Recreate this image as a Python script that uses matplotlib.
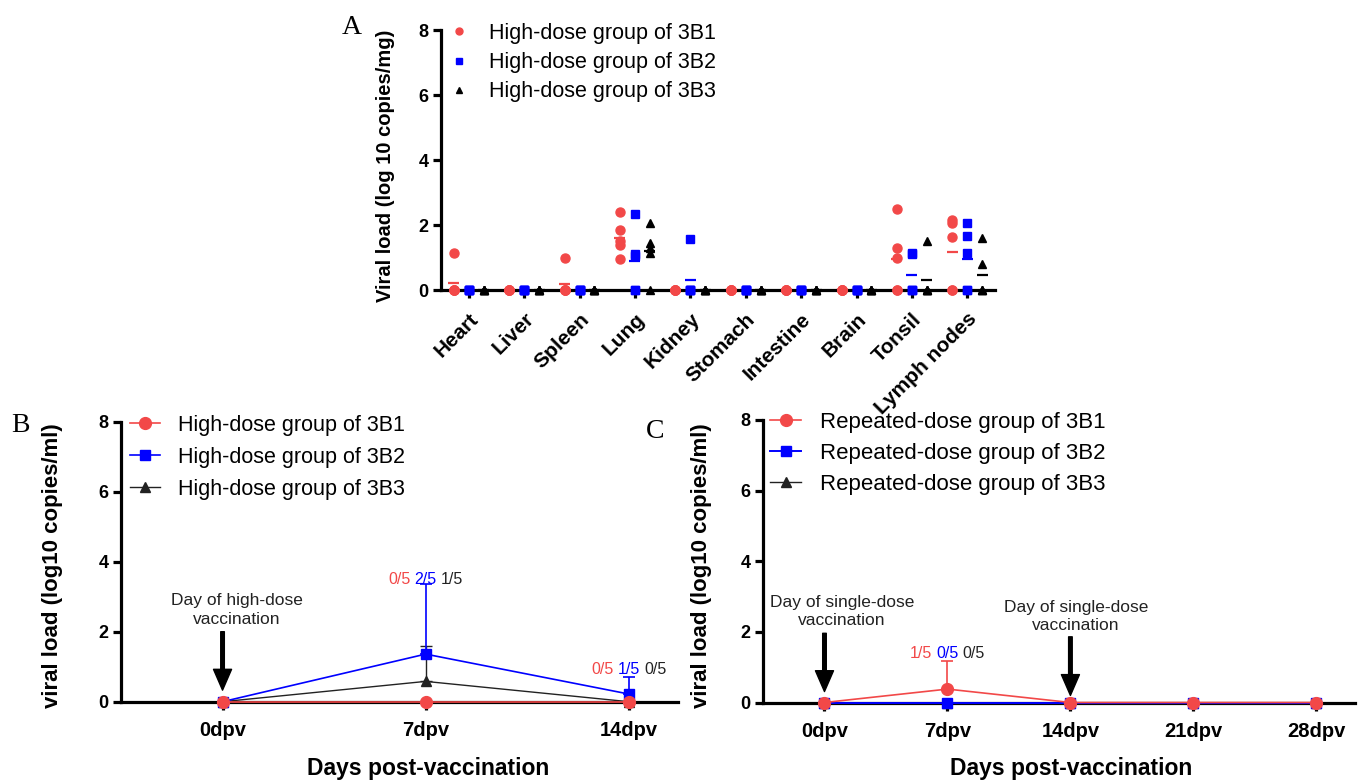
import numpy as np
import matplotlib.pyplot as plt
from matplotlib.lines import Line2D

plt.rcParams['font.family'] = ['Liberation Sans', 'DejaVu Sans']

W, H = 1363, 781
RED = '#f24848'
BLUE = '#0000ff'
BLACK = '#000000'

# ---- panel A: tissue viral load, 5 animals per group ----
organs = ['Heart', 'Liver', 'Spleen', 'Lung', 'Kidney', 'Stomach',
          'Intestine', 'Brain', 'Tonsil', 'Lymph nodes']
tissue_3b1 = [[1.15, 0, 0, 0, 0], [0, 0, 0, 0, 0], [1.0, 0, 0, 0, 0],
              [2.41, 1.84, 1.50, 1.37, 0.95], [0, 0, 0, 0, 0], [0, 0, 0, 0, 0],
              [0, 0, 0, 0, 0], [0, 0, 0, 0, 0], [2.48, 1.30, 1.0, 0, 0],
              [2.14, 2.06, 1.63, 0, 0]]
tissue_3b2 = [[0, 0, 0, 0, 0], [0, 0, 0, 0, 0], [0, 0, 0, 0, 0],
              [2.33, 1.12, 1.05, 0, 0], [1.56, 0, 0, 0, 0], [0, 0, 0, 0, 0],
              [0, 0, 0, 0, 0], [0, 0, 0, 0, 0], [1.15, 1.12, 0, 0, 0],
              [2.05, 1.66, 1.13, 0, 0]]
tissue_3b3 = [[0, 0, 0, 0, 0], [0, 0, 0, 0, 0], [0, 0, 0, 0, 0],
              [2.07, 1.46, 1.30, 1.15, 0], [0, 0, 0, 0, 0], [0, 0, 0, 0, 0],
              [0, 0, 0, 0, 0], [0, 0, 0, 0, 0], [1.51, 0, 0, 0, 0],
              [1.59, 0.79, 0, 0, 0]]
labels_a = ['High-dose group of 3B1', 'High-dose group of 3B2', 'High-dose group of 3B3']

# ---- panel B: blood viral load after high dose ----
days_b = [0, 7, 14]
b_3b1 = [0, 0, 0]
b_3b2 = [0, 1.36, 0.22]
b_3b2_sd = [0, 1.99, 0.48]
b_3b3 = [0, 0.58, 0]
b_3b3_sd = [0, 1.02, 0]
pos_b = [['0/5', '2/5', '1/5'], ['0/5', '1/5', '0/5']]
pos_b_y = [3.48, 0.93]
labels_b = labels_a

# ---- panel C: blood viral load after repeated dose ----
days_c = [0, 7, 14, 21, 28]
c_3b1 = [0, 0.38, 0, 0, 0]
c_3b1_sd = [0, 0.79, 0, 0, 0]
c_3b2 = [0, 0, 0, 0, 0]
c_3b3 = [0, 0, 0, 0, 0]
pos_c = ['1/5', '0/5', '0/5']
pos_c_y = 1.4
labels_c = ['Repeated-dose group of 3B1', 'Repeated-dose group of 3B2',
            'Repeated-dose group of 3B3']

fig = plt.figure(figsize=(W / 100, H / 100), dpi=100)


def axes_px(left, top, right, bottom):
    return fig.add_axes([left / W, 1 - bottom / H, (right - left) / W, (bottom - top) / H])


def fx(x):
    return x / W


def fy(y):
    return 1 - y / H


def style_axes(ax):
    for side in ('top', 'right'):
        ax.spines[side].set_visible(False)
    for side in ('left', 'bottom'):
        ax.spines[side].set_linewidth(2.3)
    ax.tick_params(width=2.3, length=6, direction='out', pad=3)
    ax.set_ylim(0, 8)
    ax.set_yticks([0, 2, 4, 6, 8])
    ax.set_yticklabels(['0', '2', '4', '6', '8'], fontweight='bold', fontsize=13)


# ================= A =================
axA = axes_px(441, 30, 995, 290)
style_axes(axA)
axA.set_xlim(-0.5, 9.5)
groups = [(tissue_3b1, -0.27, 'o', RED, 6.5),
          (tissue_3b2, 0.0, 's', BLUE, 6.0),
          (tissue_3b3, 0.27, '^', BLACK, 6.0)]
for vals, dx, mk, col, ms in groups:
    for i, organ_vals in enumerate(vals):
        xs = np.full(len(organ_vals), i + dx)
        axA.plot(xs, organ_vals, ls='none', marker=mk, ms=ms, color=col,
                 mec=col, clip_on=False, zorder=3)
        axA.hlines(np.mean(organ_vals), i + dx - 0.1, i + dx + 0.1,
                   color=col, lw=1.6, zorder=2)
axA.set_xticks(range(len(organs)))
axA.set_xticklabels(organs, rotation=45, ha='right', rotation_mode='anchor',
                    fontweight='bold', fontsize=15)
axA.tick_params(axis='x', pad=8)
axA.set_ylabel('Viral load (log 10 copies/mg)', fontweight='bold', fontsize=14.5)
axA.yaxis.set_label_coords(fx(395), fy(166), transform=fig.transFigure)
handles_a = [Line2D([], [], ls='none', marker=m, color=c, ms=5)
             for _, _, m, c, _ in groups]
axA.legend(handles_a, labels_a, loc='upper left', frameon=False,
           bbox_to_anchor=(fx(448), fy(23)), bbox_transform=fig.transFigure,
           borderpad=0, borderaxespad=0, handlelength=1.0, handletextpad=0.9,
           labelspacing=0.38, fontsize=15.5)
fig.text(fx(352), fy(28), 'A', family='Liberation Serif', fontsize=20,
         ha='center', va='center')


def line_panel(ax, days, series):
    handles = []
    for ys, sd, mk, col, lw, ms, z in series:
        if sd is not None:
            ax.errorbar(days, ys, yerr=[np.zeros(len(ys)), sd], fmt='none',
                        ecolor=col, elinewidth=lw, capsize=4, capthick=lw,
                        zorder=z, clip_on=False)
        h, = ax.plot(days, ys, marker=mk, color=col, lw=lw, ms=ms,
                     clip_on=False, zorder=z)
        handles.append(h)
    return handles[::-1]


def arrow(ax, x, y0, y1):
    ax.annotate('', xy=(x, y1), xytext=(x, y0),
                arrowprops=dict(facecolor='black', edgecolor='black', width=2.6,
                                headwidth=13, headlength=15, shrink=0))


def bottom_label(ax, text, xc):
    ax.set_xlabel(text, fontweight='bold', fontsize=16.5)
    ax.xaxis.set_label_coords(fx(xc), fy(768), transform=fig.transFigure)
    ax.xaxis.label.set_va('center')


# ================= B =================
axB = axes_px(121, 421.7, 678, 701.7)
style_axes(axB)
axB.set_xlim(-3.5, 15.7)
series_b = [(b_3b3, b_3b3_sd, '^', '#222222', 1.0, 7.5, 3),
            (b_3b2, b_3b2_sd, 's', BLUE, 1.2, 7.5, 4),
            (b_3b1, None, 'o', RED, 1.2, 8.5, 5)]
hb = line_panel(axB, days_b, series_b)
axB.set_xticks(days_b)
axB.set_xticklabels(['0dpv', '7dpv', '14dpv'], fontweight='bold', fontsize=14.5)
axB.tick_params(axis='x', pad=8)
axB.set_ylabel('viral load (log10 copies/ml)', fontweight='bold', fontsize=16)
axB.yaxis.set_label_coords(fx(63), fy(566), transform=fig.transFigure)
bottom_label(axB, 'Days post-vaccination', 428)
for (day, texts, yv) in zip(days_b[1:], pos_b, pos_b_y):
    for k, (t, c) in enumerate(zip(texts, [RED, BLUE, '#222222'])):
        axB.annotate(t, (day, yv), xytext=((k - 1) * 19, 0), textcoords='offset points',
                     ha='center', va='center', color=c, fontsize=11.5)
arrow(axB, 0, 2.0, 0.33)
axB.text(0.48, 2.62, 'Day of high-dose\nvaccination', ha='center', va='center',
         fontsize=12.5, linespacing=1.3, color='#222222')
axB.legend(hb, labels_b, loc='upper left', frameon=False,
           bbox_to_anchor=(fx(130), fy(415)), bbox_transform=fig.transFigure,
           borderpad=0, borderaxespad=0, handlelength=1.4, handletextpad=0.85,
           labelspacing=0.5, fontsize=15.5)
fig.text(fx(20), fy(425), 'B', family='Liberation Serif', fontsize=20,
         ha='center', va='center')

# ================= C =================
axC = axes_px(763, 420, 1355, 702.5)
style_axes(axC)
axC.set_xlim(-3.5, 30.2)
series_c = [(c_3b3, None, '^', '#222222', 1.0, 7.5, 3),
            (c_3b2, None, 's', BLUE, 1.4, 7.5, 4),
            (c_3b1, c_3b1_sd, 'o', RED, 1.2, 8.5, 5)]
hc = line_panel(axC, days_c, series_c)
axC.set_xticks(days_c)
axC.set_xticklabels(['0dpv', '7dpv', '14dpv', '21dpv', '28dpv'],
                    fontweight='bold', fontsize=14.5)
axC.tick_params(axis='x', pad=8)
axC.set_ylabel('viral load (log10 copies/ml)', fontweight='bold', fontsize=16)
axC.yaxis.set_label_coords(fx(712), fy(566), transform=fig.transFigure)
bottom_label(axC, 'Days post-vaccination', 1071)
for k, (t, c) in enumerate(zip(pos_c, [RED, BLUE, '#222222'])):
    axC.annotate(t, (7, pos_c_y), xytext=((k - 1) * 19, 0), textcoords='offset points',
                 ha='center', va='center', color=c, fontsize=11.5)
arrow(axC, 0, 1.96, 0.31)
arrow(axC, 14, 1.86, 0.2)
axC.text(1.0, 2.58, 'Day of single-dose\nvaccination', ha='center', va='center',
         fontsize=12.5, linespacing=1.3, color='#222222')
axC.text(14.3, 2.44, 'Day of single-dose\nvaccination', ha='center', va='center',
         fontsize=12.5, linespacing=1.3, color='#222222')
axC.legend(hc, labels_c, loc='upper left', frameon=False,
           bbox_to_anchor=(fx(770), fy(412)), bbox_transform=fig.transFigure,
           borderpad=0, borderaxespad=0, handlelength=1.4, handletextpad=0.85,
           labelspacing=0.45, fontsize=16)
fig.text(fx(655), fy(432), 'C', family='Liberation Serif', fontsize=20,
         ha='center', va='center')

fig.savefig('out.png', dpi=100)
